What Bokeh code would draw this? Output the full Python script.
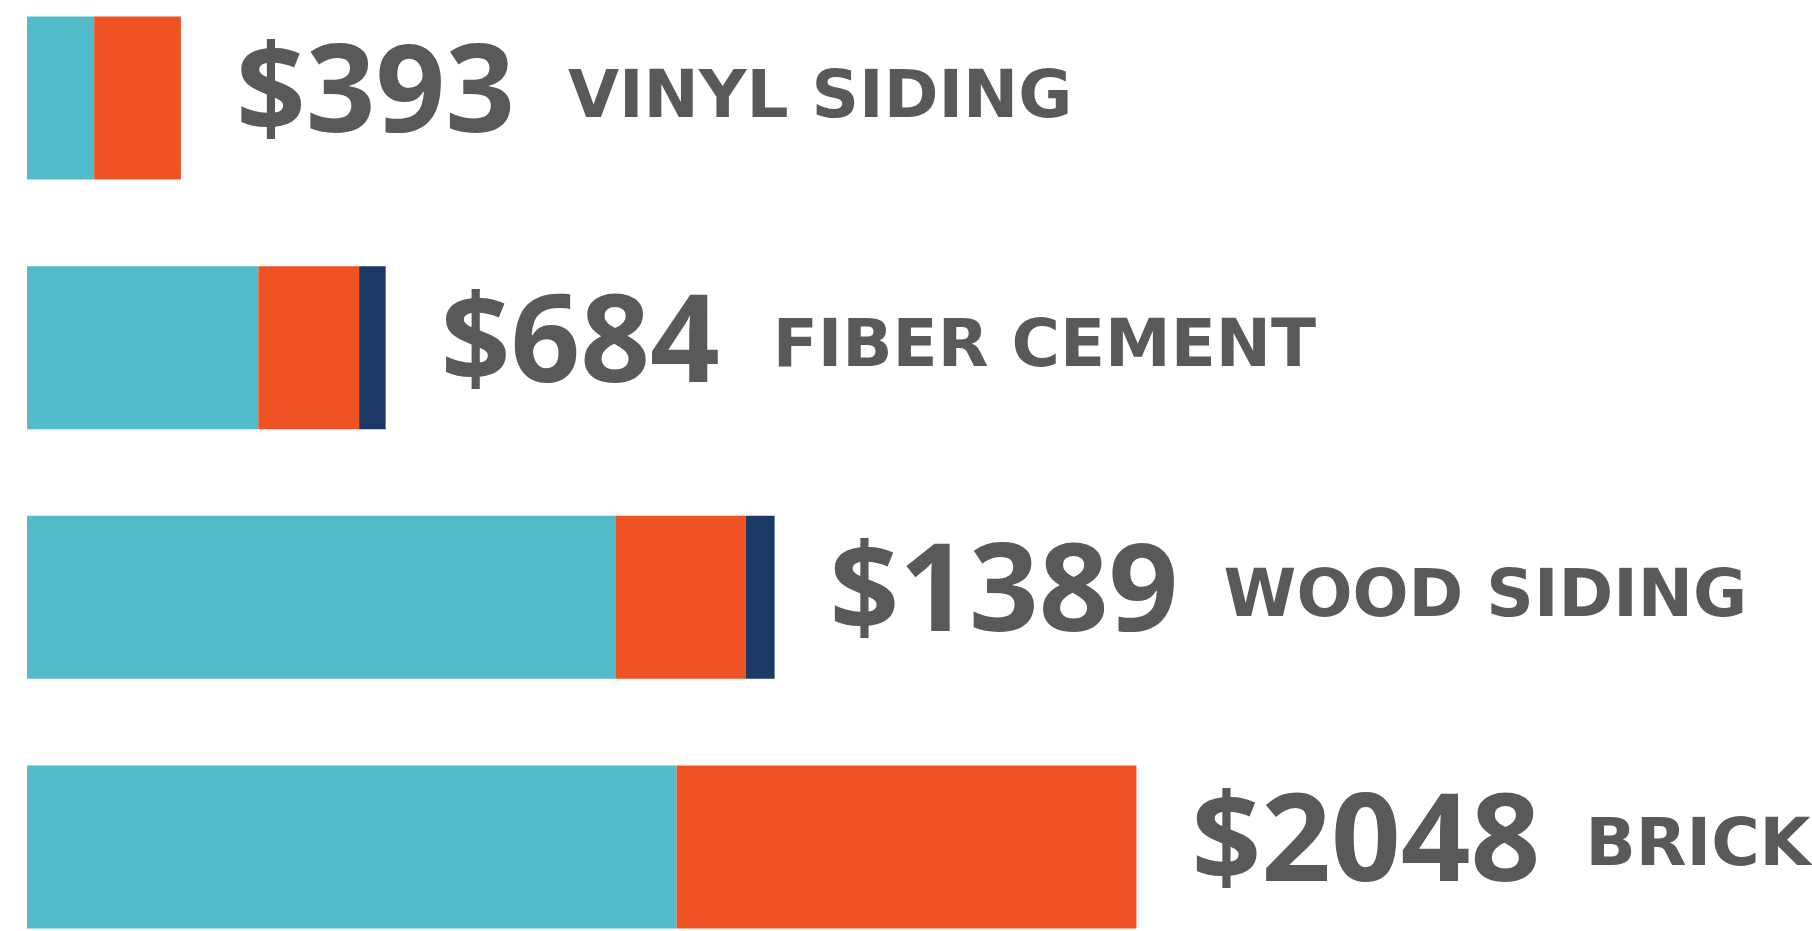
from bokeh.plotting import figure
from bokeh.models import ColumnDataSource, Range1d
from bokeh.core.properties import value
from bokeh.embed import file_html
from bokeh.resources import INLINE

# ---- data ----
materials = ["VINYL SIDING", "FIBER CEMENT", "WOOD SIDING", "BRICK"]
amounts = ["$393", "$684", "$1389", "$2048"]
seg_teal = [124, 427, 1086, 1199]
seg_orange = [160, 186, 241, 849]
seg_navy = [0, 49, 53, 0]

TEAL = "#52BCCA"
ORANGE = "#F05323"
NAVY = "#1A3966"
GRAY = "#58595B"

rows = list(range(len(materials)))
totals = [a + b + c for a, b, c in zip(seg_teal, seg_orange, seg_navy)]

src = ColumnDataSource(dict(
    y=rows, teal=seg_teal, orange=seg_orange, navy=seg_navy,
    total=totals, amount=amounts, material=materials,
    label_off=[55 + 62 * len(a) + 84 for a in amounts],
))

p = figure(width=1812, height=931, output_backend="svg", toolbar_location=None,
           x_range=Range1d(-49, 3296), y_range=Range1d(3.339, -0.391),
           min_border=0, outline_line_color=None,
           background_fill_color="white", border_fill_color="white")
p.xaxis.visible = False
p.yaxis.visible = False
p.xgrid.visible = False
p.ygrid.visible = False

p.hbar_stack(["teal", "orange", "navy"], y="y", height=0.653, source=src,
             color=[TEAL, ORANGE, NAVY], line_color=None)

p.text(x="total", y="y", text="amount", source=src, x_offset=55, y_offset=-13,
       text_font=value("Open Sans"), text_font_style="bold", text_font_size="122px",
       text_color=GRAY, text_baseline="alphabetic", text_align="left")

p.text(x="total", y="y", text="material", source=src, x_offset="label_off", y_offset=-4,
       text_font=value("DejaVu Sans"), text_font_style="bold", text_font_size="66px",
       text_color=GRAY, text_baseline="alphabetic", text_align="left")

open("out.html", "w").write(file_html(p, INLINE))
